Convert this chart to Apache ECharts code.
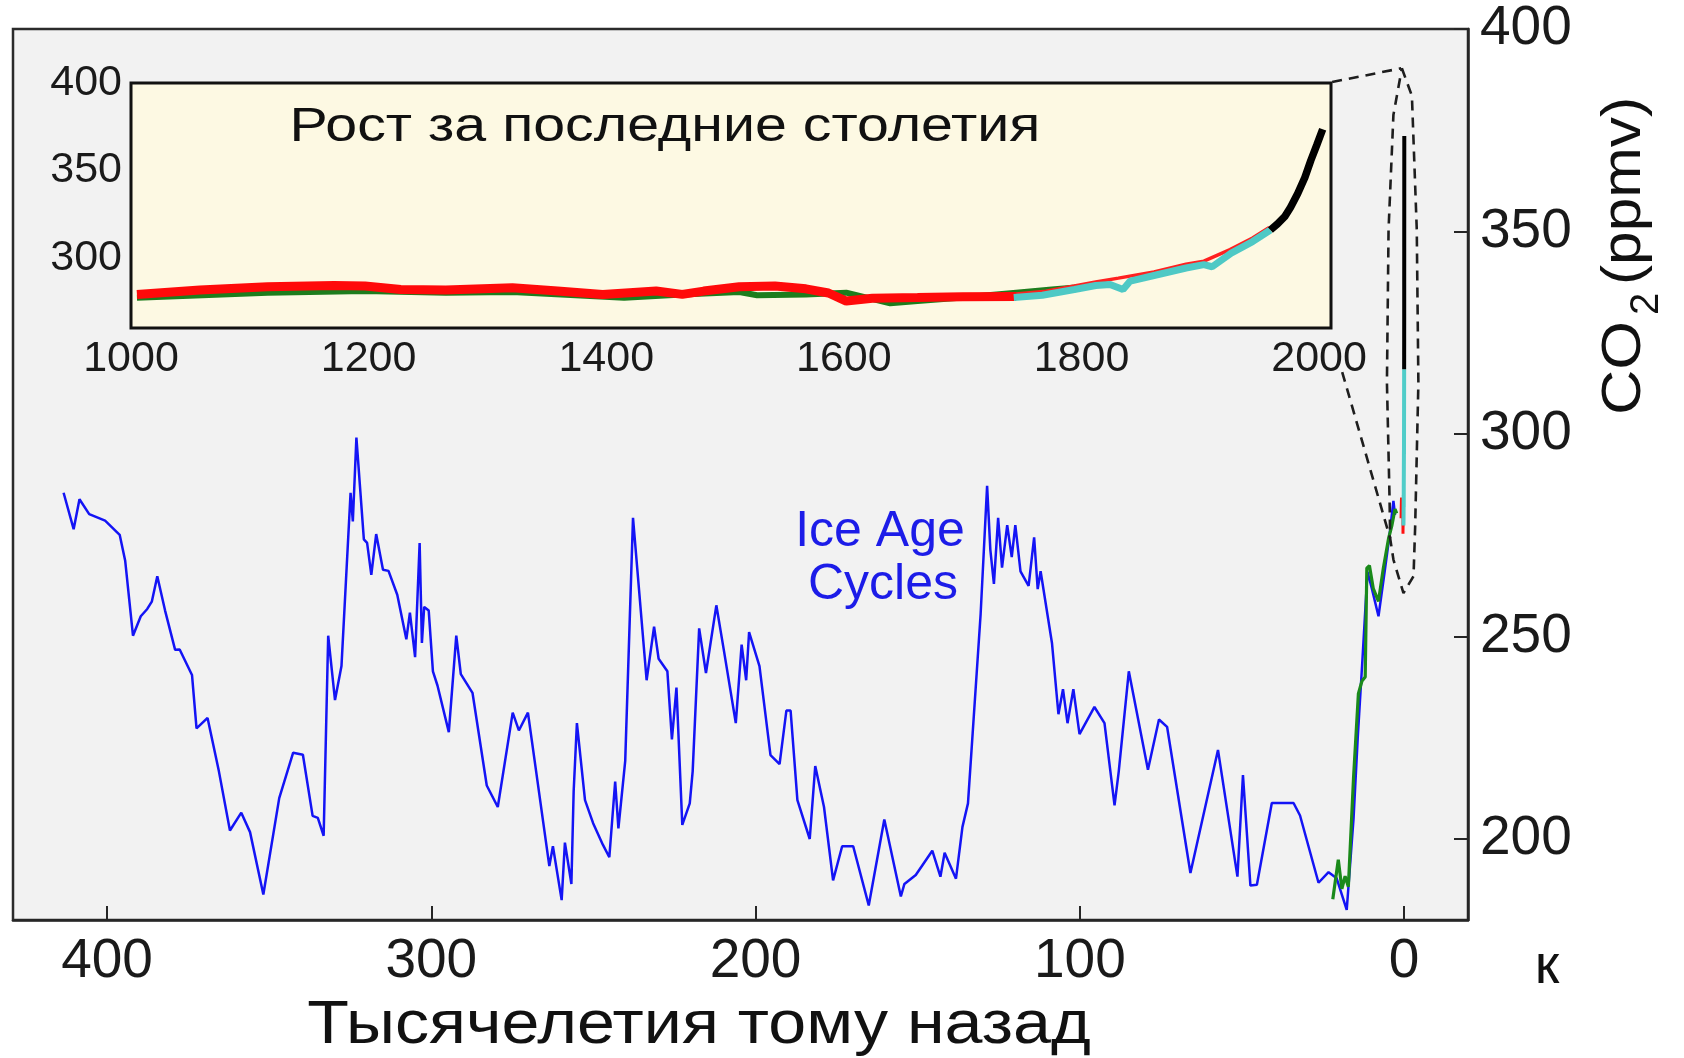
<!DOCTYPE html>
<html>
<head>
<meta charset="utf-8">
<title>CO2</title>
<script src="https://cdn.jsdelivr.net/npm/echarts@6.0.0/dist/echarts.min.js"></script>
<style>
html, body {margin: 0; padding: 0; background: #fff;}
#chart {width: 1684px; height: 1058px;}
</style>
</head>
<body>
<div id="chart"></div>
<script>
// main chart, thousands of years ago (Vostok, blue)
var vostokAge = [
    413.4, 410.3, 408.5, 405.5, 400.6, 396.1, 394.4, 392.0, 389.6, 387.6,
    386.2, 384.5, 382.1, 379.0, 377.6, 373.8, 372.4, 369.0, 365.5, 362.1,
    358.6, 355.9, 351.8, 346.9, 342.6, 339.6, 336.6, 335.0, 333.2, 331.8,
    329.7, 327.7, 324.9, 324.2, 323.1, 320.8, 319.8, 318.5, 317.0, 314.9,
    313.2, 310.5, 307.7, 306.6, 305.0, 303.6, 302.9, 302.2, 300.8, 299.5,
    298.1, 294.6, 292.3, 290.9, 287.3, 282.9, 279.5, 274.9, 273.0, 270.2,
    263.6, 262.5, 259.8, 258.8, 256.8, 256.1, 255.1, 252.6, 250.1, 247.1,
    245.1, 243.3, 242.3, 240.2, 237.8, 233.6, 231.3, 229.9, 227.2, 225.8,
    224.4, 222.6, 220.3, 219.4, 217.4, 215.3, 212.1, 209.8, 206.1, 204.3,
    202.9, 202.0, 198.8, 195.4, 192.6, 190.5, 189.2, 187.1, 183.3, 181.6,
    178.9, 176.1, 173.3, 169.9, 165.1, 160.3, 155.2, 154.1, 150.6, 145.5,
    143.0, 141.7, 138.2, 136.2, 134.5, 130.6, 128.6, 127.6, 126.5, 125.2,
    124.0, 122.4, 121.0, 119.9, 118.3, 115.8, 114.1, 113.0, 112.1, 108.6,
    106.6, 105.2, 103.8, 102.0, 100.1, 95.5, 92.4, 89.3, 88.0, 84.9,
    79.0, 75.6, 73.1, 65.9, 57.4, 51.4, 49.7, 47.4, 45.4, 40.8,
    34.1, 32.1, 26.4, 23.3, 20.8, 17.7, 15.6, 14.3, 12.8, 11.3,
    10.0, 7.9, 6.0, 4.5, 3.3, 2.8
];
var vostokCO2 = [
    285.5, 276.5, 283.9, 280.2, 278.6, 275.1, 268.7, 250.2, 255.0, 256.8,
    258.6, 264.9, 256.4, 246.7, 246.8, 240.5, 227.3, 229.9, 216.7, 202.1,
    206.5, 201.7, 186.3, 210.1, 221.3, 220.8, 205.7, 205.2, 200.8, 250.2,
    234.3, 242.7, 285.5, 278.4, 299.1, 274.0, 273.1, 265.2, 275.3, 266.5,
    266.2, 260.3, 249.3, 255.9, 244.9, 273.1, 248.4, 257.3, 256.4, 241.4,
    237.9, 226.4, 250.2, 240.7, 236.1, 213.2, 207.9, 231.2, 226.8, 231.2,
    193.3, 198.2, 184.9, 199.1, 188.9, 211.8, 228.6, 209.6, 203.9, 198.6,
    195.5, 214.2, 202.6, 219.3, 279.3, 239.2, 252.4, 244.5, 241.4, 224.6,
    237.4, 203.5, 208.8, 216.7, 252.0, 241.0, 257.7, 246.7, 228.6, 248.0,
    239.2, 251.1, 242.7, 220.7, 218.5, 231.7, 231.7, 209.6, 200.0, 218.0,
    207.9, 189.8, 198.2, 198.2, 183.6, 204.8, 185.8, 188.9, 191.1, 197.1,
    190.7, 196.6, 190.2, 203.0, 208.8, 255.5, 287.2, 271.4, 263.0, 279.3,
    267.0, 277.5, 269.6, 277.5, 266.1, 262.5, 274.5, 261.7, 266.1, 248.4,
    230.8, 237.0, 228.6, 237.0, 225.9, 232.6, 228.6, 208.3, 216.7, 241.4,
    217.1, 229.5, 227.7, 191.6, 222.0, 190.7, 215.8, 188.5, 188.7, 208.9,
    208.9, 205.8, 189.2, 191.8, 190.3, 182.5, 205.0, 225.0, 245.0, 266.0,
    262.0, 255.0, 266.0, 275.0, 283.5, 280.0
];
// last deglaciation (green)
var domeAge = [22.0, 20.3, 19.2, 18.2, 17.2, 15.6, 14.1, 13.0, 12.0, 11.5, 10.7, 9.5, 7.9, 6.4, 4.8, 3.8, 2.8, 2.3];
var domeCO2 = [185.1, 194.9, 187.7, 190.8, 188.2, 215.1, 235.9, 239.0, 240.0, 266.9, 267.5, 261.8, 258.7, 266.9, 274.2, 277.3, 281.5, 280.4];

// inset, years AD
var redYear = [1005, 1058, 1115, 1171, 1197, 1227, 1265, 1321, 1359, 1397, 1442, 1464, 1482, 1512, 1542, 1568, 1587, 1602, 1624, 1662, 1700, 1745];
var redCO2 = [279.2, 281.7, 283.6, 284.3, 284.0, 282.0, 281.7, 283.0, 281.1, 279.2, 281.1, 279.2, 281.1, 283.6, 284.0, 282.4, 280.0, 275.4, 277.0, 277.4, 277.9, 278.0];
var redLateYear = [1745, 1770, 1794, 1812, 1831, 1861, 1888, 1903, 1925, 1944, 1958];
var redLateCO2 = [279.5, 281.0, 284.0, 286.3, 288.5, 292.0, 296.5, 298.2, 304.8, 311.4, 317.5];
var greenYear = [1005, 1115, 1197, 1265, 1321, 1415, 1464, 1512, 1527, 1568, 1602, 1639, 1662, 1700, 1745, 1775, 1800];
var greenCO2 = [277.3, 280.2, 281.1, 280.2, 280.6, 277.3, 279.2, 280.6, 278.7, 279.2, 280.2, 274.1, 275.4, 277.4, 280.2, 282.0, 283.5];
var cyanYear = [1743, 1767, 1794, 1812, 1824, 1835, 1841, 1861, 1888, 1903, 1910, 1926, 1944, 1959];
var cyanCO2 = [277.4, 278.7, 282.0, 284.3, 284.9, 282.0, 286.8, 290.0, 294.3, 296.2, 295.0, 302.8, 309.4, 316.0];
var maunaYear = [1959, 1965, 1971, 1976, 1982, 1988, 1993, 1998, 2003];
var maunaCO2 = [316.0, 319.5, 323.6, 329.0, 336.8, 346.0, 355.7, 364.5, 373.6];

var mainTicksX = [0, 100, 200, 300, 400];
var mainTicksY = [200, 250, 300, 350, 400];
var insetTicksX = [1000, 1200, 1400, 1600, 1800, 2000];
var insetTicksY = [300, 350, 400];

// dashed zoom marks, in main chart units (kyr, ppmv)
var loopAge = [0.7, -2.4, -3.9, -4.4, -3.4, -2.9, 0.2, 3.3, 4.3, 4.5, 5.3, 4.8, 3.3, 0.7];
var loopCO2 = [390.3, 383.5, 350.5, 312.7, 277.0, 264.9, 260.7, 269.0, 274.2, 284.3, 312.7, 350.5, 378.8, 390.3];
var upperLinkAge = [22.2, 0.9];
var upperLinkCO2 = [386.9, 390.3];
var lowerLinkAge = [19.1, 4.3];
var lowerLinkCO2 = [315.3, 274.2];

var FONT = '"Liberation Sans", Arial, sans-serif';

function pairs(xs, ys) {
    var out = [];
    for (var i = 0; i < xs.length; i++) out.push([xs[i], ys[i]]);
    return out;
}

// years AD -> thousands of years before 1950
function toKyr(years, values) {
    var out = [];
    for (var i = 0; i < years.length; i++) out.push([(1950 - years[i]) / 1000, values[i]]);
    return out;
}

function line(data, color, width, xi, extra) {
    var s = {
        type: 'line', data: data, xAxisIndex: xi, yAxisIndex: xi,
        showSymbol: false, symbol: 'none', silent: true,
        lineStyle: {color: color, width: width}
    };
    if (extra) for (var k in extra) s[k] = extra[k];
    return s;
}

function dashed(data) {
    return line(data, '#1e1e1e', 2.6, 0, {lineStyle: {color: '#1e1e1e', width: 2.6, type: [10, 7]}, z: 5});
}

function plain(v) { return String(v); }

var chart = echarts.init(document.getElementById('chart'), null, {renderer: 'canvas'});

var option = {
    animation: false,
    backgroundColor: '#ffffff',
    grid: [
        {left: 13, top: 29, width: 1455, height: 891, show: true, backgroundColor: '#f2f2f2', borderColor: '#2b2b2b', borderWidth: 2.5},
        {left: 131, top: 83, width: 1200, height: 245, show: true, backgroundColor: '#fdf9e3', borderColor: '#111', borderWidth: 3, z: 1}
    ],
    xAxis: [
        {
            gridIndex: 0, type: 'value', min: -19.7, max: 429, inverse: true, position: 'bottom',
            axisLine: {show: true, onZero: false, lineStyle: {color: '#262626', width: 2.5}},
            axisTick: {show: true, inside: true, length: 14, customValues: mainTicksX, lineStyle: {color: '#262626', width: 2}},
            axisLabel: {customValues: mainTicksX, formatter: plain, fontSize: 55, fontFamily: FONT, color: '#1a1a1a', margin: 14},
            splitLine: {show: false}
        },
        {
            gridIndex: 1, type: 'value', min: 1000, max: 2010, position: 'bottom',
            axisLine: {show: false, onZero: false},
            axisTick: {show: true, inside: true, length: 10, customValues: insetTicksX, lineStyle: {color: '#111', width: 2}},
            axisLabel: {customValues: insetTicksX, formatter: plain, fontSize: 43, fontFamily: FONT, color: '#1a1a1a', margin: 10},
            splitLine: {show: false}
        },
        {
            gridIndex: 1, type: 'value', min: 1000, max: 2010, position: 'top',
            axisLine: {show: false, onZero: false},
            axisTick: {show: true, inside: true, length: 10, customValues: insetTicksX, lineStyle: {color: '#111', width: 2}},
            axisLabel: {show: false},
            splitLine: {show: false}
        }
    ],
    yAxis: [
        {
            gridIndex: 0, type: 'value', min: 180, max: 400, position: 'right',
            axisLine: {show: true, onZero: false, lineStyle: {color: '#262626', width: 2.5}},
            axisTick: {show: true, inside: true, length: 14, customValues: mainTicksY, lineStyle: {color: '#262626', width: 2}},
            axisLabel: {customValues: mainTicksY, formatter: plain, fontSize: 55, fontFamily: FONT, color: '#1a1a1a', margin: 12},
            splitLine: {show: false}
        },
        {
            gridIndex: 1, type: 'value', min: 260, max: 400, position: 'left',
            axisLine: {show: false, onZero: false},
            axisTick: {show: true, inside: true, length: 10, customValues: insetTicksY, lineStyle: {color: '#111', width: 2}},
            axisLabel: {customValues: insetTicksY, formatter: plain, fontSize: 43, fontFamily: FONT, color: '#1a1a1a', margin: 9},
            splitLine: {show: false}
        },
        {
            gridIndex: 1, type: 'value', min: 260, max: 400, position: 'right',
            axisLine: {show: false, onZero: false},
            axisTick: {show: true, inside: true, length: 10, customValues: insetTicksY, lineStyle: {color: '#111', width: 2}},
            axisLabel: {show: false},
            splitLine: {show: false}
        }
    ],
    series: [
        line(pairs(vostokAge, vostokCO2), '#1414f5', 2.5, 0),
        line(pairs(domeAge, domeCO2), '#1a8a1a', 3.2, 0),
        line(toKyr(redYear, redCO2), '#ff1010', 3, 0),
        line(toKyr(cyanYear, cyanCO2), '#50cdc9', 4, 0),
        line(toKyr(maunaYear, maunaCO2), '#000000', 4, 0),
        dashed(pairs(loopAge, loopCO2)),
        dashed(pairs(upperLinkAge, upperLinkCO2)),
        dashed(pairs(lowerLinkAge, lowerLinkCO2)),
        // inset
        line(pairs(greenYear, greenCO2), '#1d7d1d', 6, 1, {z: 3}),
        line(pairs(redYear, redCO2), '#ff0a0a', 9, 1, {z: 3}),
        line(pairs(redLateYear, redLateCO2), '#ff2020', 3.5, 1, {z: 3}),
        line(pairs(cyanYear, cyanCO2), '#4ec9c5', 7, 1, {z: 3}),
        line(pairs(maunaYear, maunaCO2), '#000000', 7.5, 1, {z: 3})
    ],
    graphic: [
        {type: 'text', x: 665, y: 127, scaleX: 1.17, style: {text: 'Рост за последние столетия', fontSize: 49, fontFamily: FONT, fill: '#111', align: 'center', verticalAlign: 'middle'}, z: 10},
        {type: 'text', x: 880, y: 532, style: {text: 'Ice Age', fontSize: 50, fontFamily: FONT, fill: '#1c1ce8', align: 'center', verticalAlign: 'middle'}, z: 10},
        {type: 'text', x: 883, y: 585, style: {text: 'Cycles', fontSize: 50, fontFamily: FONT, fill: '#1c1ce8', align: 'center', verticalAlign: 'middle'}, z: 10},
        {type: 'text', x: 699, y: 1026, scaleX: 1.1, style: {text: 'Тысячелетия тому назад', fontSize: 62, fontFamily: FONT, fill: '#111', align: 'center', verticalAlign: 'middle'}, z: 10},
        {type: 'text', x: 1547, y: 968, style: {text: 'к', fontSize: 56, fontFamily: FONT, fill: '#111', align: 'center', verticalAlign: 'middle'}, z: 10},
        {
            type: 'group', x: 1633, y: 255, rotation: Math.PI / 2, z: 10,
            children: [
                {type: 'text', x: -113, y: -8.5, scaleX: 1.12, style: {text: 'CO', fontSize: 56, fontFamily: FONT, fill: '#111', align: 'center', verticalAlign: 'middle'}},
                {type: 'text', x: -49, y: 14, style: {text: '2', fontSize: 40, fontFamily: FONT, fill: '#111', align: 'center', verticalAlign: 'middle'}},
                {type: 'text', x: 64, y: -8.5, scaleX: 1.1, style: {text: '(ppmv)', fontSize: 55, fontFamily: FONT, fill: '#111', align: 'center', verticalAlign: 'middle'}}
            ]
        }
    ]
};

chart.setOption(option);
</script>
</body>
</html>
